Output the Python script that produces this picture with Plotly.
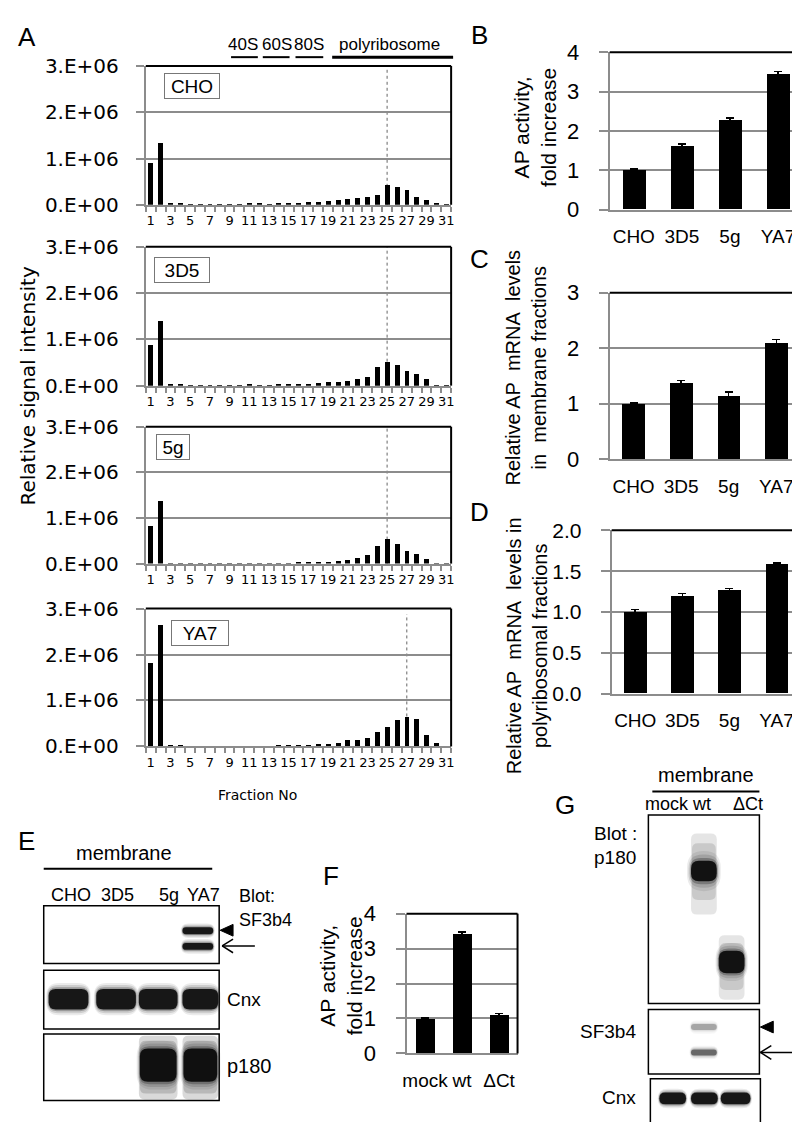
import plotly.graph_objects as go

# ---------------- data ----------------
fractions = list(range(1, 32))
frac_labels = [str(f) if f % 2 == 1 else "" for f in fractions]
cell_lines = ["CHO", "3D5", "5g", "YA7"]
cho_profile = [0.90, 1.33, 0.03, 0.02, 0.01, 0.01, 0.01, 0.01, 0.015, 0.015, 0.02, 0.02, 0.015, 0.02,
               0.03, 0.045, 0.055, 0.07, 0.08, 0.10, 0.13, 0.15, 0.17, 0.22, 0.42, 0.39, 0.32, 0.18,
               0.11, 0.02, 0.01]
d3d5_profile = [0.89, 1.40, 0.025, 0.02, 0.01, 0.01, 0.01, 0.01, 0.01, 0.015, 0.02, 0.015, 0.015, 0.02,
                0.03, 0.04, 0.05, 0.06, 0.075, 0.09, 0.11, 0.155, 0.20, 0.40, 0.52, 0.44, 0.32, 0.25,
                0.15, 0.01, 0.005]
g5_profile = [0.84, 1.38, 0.015, 0.005, 0.003, 0.003, 0.003, 0.003, 0.003, 0.003, 0.003, 0.003, 0.005,
              0.005, 0.01, 0.02, 0.03, 0.04, 0.05, 0.065, 0.08, 0.13, 0.19, 0.40, 0.54, 0.43, 0.29,
              0.21, 0.10, 0.005, 0.003]
ya7_profile = [1.83, 2.65, 0.025, 0.02, 0.01, 0.01, 0.01, 0.01, 0.012, 0.012, 0.012, 0.015, 0.015, 0.02,
               0.025, 0.035, 0.04, 0.055, 0.06, 0.08, 0.14, 0.14, 0.20, 0.32, 0.44, 0.58, 0.65, 0.60,
               0.26, 0.09, 0.01]
profiles = [cho_profile, d3d5_profile, g5_profile, ya7_profile]
peak_fraction = [25, 25, 25, 27]
a_ticks = [0, 1e6, 2e6, 3e6]
a_ticktext = ["0.E+00", "1.E+06", "2.E+06", "3.E+06"]

ap_activity = [1.0, 1.62, 2.26, 3.44]
ap_activity_err = [0.04, 0.05, 0.07, 0.07]
membrane_mrna = [1.0, 1.37, 1.14, 2.10]
membrane_mrna_err = [0.01, 0.05, 0.07, 0.06]
polysome_mrna = [1.0, 1.196, 1.26, 1.58]
polysome_mrna_err = [0.03, 0.03, 0.03, 0.02]
constructs = ["mock", "wt", "\u0394Ct"]
ap_activity_f = [1.0, 3.42, 1.11]
ap_activity_f_err = [0.02, 0.06, 0.03]

# ---------------- helpers ----------------
W, H = 800, 1122
def px(x): return x / W
def py(y): return 1 - y / H

GRID = "#8c8c8c"
ARIAL = "Liberation Sans"
CAL = "DejaVu Sans"

fig = go.Figure()
shapes = []
annos = []
layout_axes = {}

def add_axes(i, x0, x1, ytop, ybot):
    return dict(x=[px(x0), px(x1)], y=[py(ybot), py(ytop)])

def frame(i):
    xr = "x domain" if i == 1 else f"x{i} domain"
    yr = "y domain" if i == 1 else f"y{i} domain"
    shapes.append(dict(type="line", xref=xr, yref=yr, x0=0, x1=1, y0=1, y1=1,
                       line=dict(color="black", width=2), layer="above"))
    shapes.append(dict(type="line", xref=xr, yref=yr, x0=1, x1=1, y0=0, y1=1,
                       line=dict(color="black", width=2), layer="above"))

# ---------------- panel A ----------------
a_pos = [(47, 189), (232, 374), (416, 556), (602, 743)]
box_pos = [(182, 67, 52), (172, 256, 52), (162, 437, 30), (190, 627, 54)]
for k in range(4):
    i = k + 1
    ytop, ybot = a_pos[k]
    dom = add_axes(i, 135, 443, ytop, ybot)
    xa = "xaxis" if i == 1 else f"xaxis{i}"
    ya = "yaxis" if i == 1 else f"yaxis{i}"
    fig.add_trace(go.Bar(x=fractions, y=[v * 1e6 for v in profiles[k]], width=0.5,
                         marker=dict(color="black", line=dict(width=0)),
                         xaxis="x" if i == 1 else f"x{i}", yaxis="y" if i == 1 else f"y{i}"))
    layout_axes[xa] = dict(domain=dom["x"], anchor="y" if i == 1 else f"y{i}", range=[0.5, 31.5],
                           tickmode="array", tickvals=fractions, ticktext=frac_labels,
                           ticks="", showgrid=False, zeroline=False, showline=True,
                           linecolor=GRID, linewidth=2, tickangle=0,
                           tickfont=dict(family=CAL, size=13, color="black"), ticklabelstandoff=3,
                           minor=dict(tickmode="array", tickvals=[f - 0.5 for f in fractions] + [31.5],
                                      ticks="outside", ticklen=5, tickcolor=GRID, tickwidth=1.5,
                                      showgrid=False))
    layout_axes[ya] = dict(domain=dom["y"], anchor="x" if i == 1 else f"x{i}", range=[0, 3e6],
                           tickmode="array", tickvals=a_ticks, ticktext=a_ticktext,
                           showgrid=True, gridcolor=GRID, gridwidth=1.5, zeroline=False,
                           showline=True, linecolor=GRID, linewidth=2,
                           ticks="outside", ticklen=8, tickcolor=GRID, tickwidth=1.5,
                           tickfont=dict(family=CAL, size=20, color="black"), ticklabelstandoff=13)
    frame(i)
    xr = "x" if i == 1 else f"x{i}"
    yr = "y domain" if i == 1 else f"y{i} domain"
    shapes.append(dict(type="line", xref=xr, yref=yr, x0=peak_fraction[k], x1=peak_fraction[k],
                       y0=0, y1=1 if k < 3 else 0.96, line=dict(color="#666", width=1, dash="dot"),
                       layer="below"))
    bx, by, bw = box_pos[k]
    annos.append(dict(x=px(bx), y=py(by), xref="paper", yref="paper", text=cell_lines[k],
                      showarrow=False, font=dict(family=ARIAL, size=19, color="black"),
                      bordercolor="#777", borderwidth=1, borderpad=1, bgcolor="white",
                      width=bw, height=22, xanchor="center", yanchor="middle"))

# header of panel A
for txt, cx in [("40S", 233), ("60S", 267), ("80S", 300), ("polyribosome", 381)]:
    annos.append(dict(x=px(cx), y=py(25), xref="paper", yref="paper", text=txt, showarrow=False,
                      font=dict(family=ARIAL, size=17, color="black"), xanchor="center", yanchor="middle"))
for (x0, x1, w) in [(221, 248, 2), (253, 280, 2), (286, 314, 2), (323, 445, 3)]:
    shapes.append(dict(type="line", xref="paper", yref="paper", x0=px(x0), x1=px(x1),
                       y0=py(38), y1=py(38), line=dict(color="black", width=w)))
annos.append(dict(x=px(16), y=py(374), xref="paper", yref="paper", text="Relative signal intensity",
                  textangle=-90, showarrow=False, font=dict(family=CAL, size=20, color="black"),
                  xanchor="center", yanchor="middle"))
annos.append(dict(x=px(248), y=py(793), xref="paper", yref="paper", text="Fraction No",
                  showarrow=False, font=dict(family=CAL, size=14, color="black"),
                  xanchor="center", yanchor="middle"))

# ---------------- panels B, C, D, F ----------------
bar_panels = [
    (5, cell_lines, ap_activity, ap_activity_err, 603, 797, 33, 194, [0, 4], 1, "d", 0.48, 19, 22),
    (6, cell_lines, membrane_mrna, membrane_mrna_err, 603, 795, 279, 449, [0, 3], 1, "d", 0.48, 19, 22),
    (7, cell_lines, polysome_mrna, polysome_mrna_err, 605, 795, 522, 689, [0, 2], 0.5, ".1f", 0.48, 19, 21),
    (8, constructs, ap_activity_f, ap_activity_f_err, 398, 510, 914, 1057, [0, 4], 1, "d", 0.5, 19, 22),
]
for (i, cats, vals, errs, x0, x1, ytop, ybot, yr, dt, tf, bw, xfs, yfs) in bar_panels:
    dom = add_axes(i, x0, x1, ytop, ybot)
    fig.add_trace(go.Bar(x=cats, y=vals, width=bw, marker=dict(color="black", line=dict(width=0)),
                         error_y=dict(type="data", array=errs, color="black", thickness=1.5, width=4),
                         xaxis=f"x{i}", yaxis=f"y{i}"))
    layout_axes[f"xaxis{i}"] = dict(domain=dom["x"], anchor=f"y{i}", type="category",
                                    range=[-0.5, len(cats) - 0.5], ticks="", showgrid=False,
                                    zeroline=False, showline=True, linecolor=GRID, linewidth=2,
                                    tickangle=0,
                                    tickfont=dict(family=ARIAL, size=xfs, color="black"),
                                    ticklabelstandoff=9)
    layout_axes[f"yaxis{i}"] = dict(domain=dom["y"], anchor=f"x{i}", range=yr, dtick=dt, tick0=0,
                                    tickformat=tf, showgrid=True, gridcolor=GRID, gridwidth=1.5,
                                    zeroline=False, showline=True, linecolor=GRID, linewidth=2,
                                    ticks="outside", ticklen=9, tickcolor=GRID, tickwidth=1.5,
                                    tickfont=dict(family=ARIAL, size=yfs, color="black"),
                                    ticklabelstandoff=15)
    frame(i)

ytitles = [
    ("AP activity,<br>fold increase", 527, 110, 21),
    ("Relative AP\u00a0\u00a0mRNA\u00a0\u00a0levels<br>in\u00a0\u00a0membrane fractions", 519, 355, 20),
    ("Relative AP\u00a0\u00a0mRNA\u00a0\u00a0levels in<br>polyribosomal fractions", 519, 640, 20),
    ("AP activity,<br>fold increase", 332, 978, 21),
]
for txt, cx, cy, fs in ytitles:
    annos.append(dict(x=px(cx), y=py(cy), xref="paper", yref="paper", text=txt, textangle=-90,
                      showarrow=False, font=dict(family=ARIAL, size=fs, color="black"),
                      xanchor="center", yanchor="middle"))

# panel letters
for L, cx, cy in [("A", 15, 17), ("B", 472, 15), ("C", 472, 244), ("D", 472, 503),
                  ("E", 15, 840), ("F", 322, 875), ("G", 558, 803)]:
    annos.append(dict(x=px(cx), y=py(cy), xref="paper", yref="paper", text=L, showarrow=False,
                      font=dict(family=ARIAL, size=26, color="black"), xanchor="center", yanchor="middle"))

# ---------------- blots (E, G) ----------------
def text(t, x, y, size=17, anchor="center"):
    annos.append(dict(x=px(x), y=py(y), xref="paper", yref="paper", text=t, showarrow=False,
                      font=dict(family=ARIAL, size=size, color="black"), xanchor=anchor, yanchor="middle"))

def rect(x0, y0, x1, y1, lw=1.5):
    shapes.append(dict(type="rect", xref="paper", yref="paper", x0=px(x0), x1=px(x1),
                       y0=py(y1), y1=py(y0), line=dict(color="black", width=lw), fillcolor="rgba(0,0,0,0)"))

def line(x0, y0, x1, y1, w=1.5):
    shapes.append(dict(type="line", xref="paper", yref="paper", x0=px(x0), x1=px(x1),
                       y0=py(y0), y1=py(y1), line=dict(color="black", width=w)))

def rrect_path(x0, y0, x1, y1, r):
    r = min(r, (x1 - x0) / 2, (y1 - y0) / 2)
    pts = [f"M {px(x0 + r)} {py(y0)}", f"L {px(x1 - r)} {py(y0)}",
           f"Q {px(x1)} {py(y0)} {px(x1)} {py(y0 + r)}", f"L {px(x1)} {py(y1 - r)}",
           f"Q {px(x1)} {py(y1)} {px(x1 - r)} {py(y1)}", f"L {px(x0 + r)} {py(y1)}",
           f"Q {px(x0)} {py(y1)} {px(x0)} {py(y1 - r)}", f"L {px(x0)} {py(y0 + r)}",
           f"Q {px(x0)} {py(y0)} {px(x0 + r)} {py(y0)}", "Z"]
    return " ".join(pts)

def band(x0, y0, x1, y1, strength=1.0, blur=3, r=None):
    if r is None:
        r = (y1 - y0) / 2
    for g, op in [(blur * 2, 0.08), (blur * 1.3, 0.12), (blur * 0.6, 0.25), (0, 0.85)]:
        shapes.append(dict(type="path", xref="paper", yref="paper",
                           path=rrect_path(x0 - g * 0.4, y0 - g, x1 + g * 0.4, y1 + g, r + g),
                           line=dict(width=0),
                           fillcolor=f"rgba(0,0,0,{op * strength:.3f})", layer="below"))

def smear(x0, y0, x1, y1, op):
    shapes.append(dict(type="path", xref="paper", yref="paper",
                       path=rrect_path(x0, y0, x1, y1, 6), line=dict(width=0),
                       fillcolor=f"rgba(0,0,0,{op})", layer="below"))

def tri(xtip, y):
    shapes.append(dict(type="path", xref="paper", yref="paper",
                       path=f"M {px(xtip)} {py(y)} L {px(xtip + 13)} {py(y - 6)} L {px(xtip + 13)} {py(y + 6)} Z",
                       fillcolor="black", line=dict(color="black", width=1)))

def arrow(xtip, y, length):
    line(xtip, y, xtip + length, y, 1.5)
    line(xtip, y, xtip + 11, y - 7, 1.5)
    line(xtip, y, xtip + 11, y + 7, 1.5)

# Panel E
text("membrane", 113, 852, 20)
line(32, 868, 202, 868, 2)
for t, cx in [("CHO", 60), ("3D5", 106), ("5g", 158), ("YA7", 193)]:
    text(t, cx, 895, 18)
text("Blot:", 227, 896, 18, "left")
text("SF3b4", 227, 920, 18, "left")
rect(32, 906, 209, 965)
rect(32, 972, 209, 1032)
rect(32, 1037, 209, 1105)
band(172, 928, 203, 935, 1.0, 2)
band(172, 944, 203, 951, 1.0, 2)
tri(210, 931)
arrow(212, 947, 33)
for (x0, x1) in [(37, 77), (85, 125), (128, 167), (172, 208)]:
    band(x0, 991, x1, 1012, 1.0, 3, 7)
text("Cnx", 215, 1002, 19, "left")
for (x0, x1) in [(128, 167), (172, 208)]:
    smear(x0, 1039, x1, 1104, 0.15)
    smear(x0 + 1, 1044, x1 - 1, 1098, 0.15)
    band(x0 + 1, 1052, x1 - 1, 1086, 1.0, 4, 8)
text("p180", 215, 1070, 20, "left")

# Panel G
text("membrane", 700, 772, 20)
line(646, 789, 754, 789, 2)
text("mock", 661, 802, 18)
text("wt", 696, 802, 18)
text("\u0394Ct", 742, 802, 18)
text("Blot :", 585, 832, 19, "left")
text("p180", 585, 857, 19, "left")
text("SF3b4", 632, 1035, 19, "right")
text("Cnx", 632, 1102, 19, "right")
rect(642, 813, 754, 1006)
rect(642, 1012, 754, 1078)
rect(644, 1083, 755, 1135)
smear(685, 832, 711, 915, 0.10)
smear(686, 842, 710, 900, 0.12)
band(685, 860, 711, 881, 1.0, 5, 8)
smear(713, 936, 739, 1002, 0.10)
smear(714, 944, 738, 992, 0.12)
band(713, 952, 739, 975, 1.0, 4, 8)
band(685, 1027, 711, 1033, 0.3, 2)
band(685, 1053, 711, 1059, 0.55, 2)
tri(755, 1030)
arrow(755, 1056, 32)
for (x0, x1) in [(653, 680), (685, 712), (715, 745)]:
    band(x0, 1097, x1, 1109, 1.0, 2)

fig.update_layout(
    width=W, height=H, margin=dict(l=0, r=0, t=0, b=0), autosize=False,
    paper_bgcolor="white", plot_bgcolor="white", showlegend=False, bargap=0,
    shapes=shapes, annotations=annos, **layout_axes,
)
fig.write_html("out.html")
